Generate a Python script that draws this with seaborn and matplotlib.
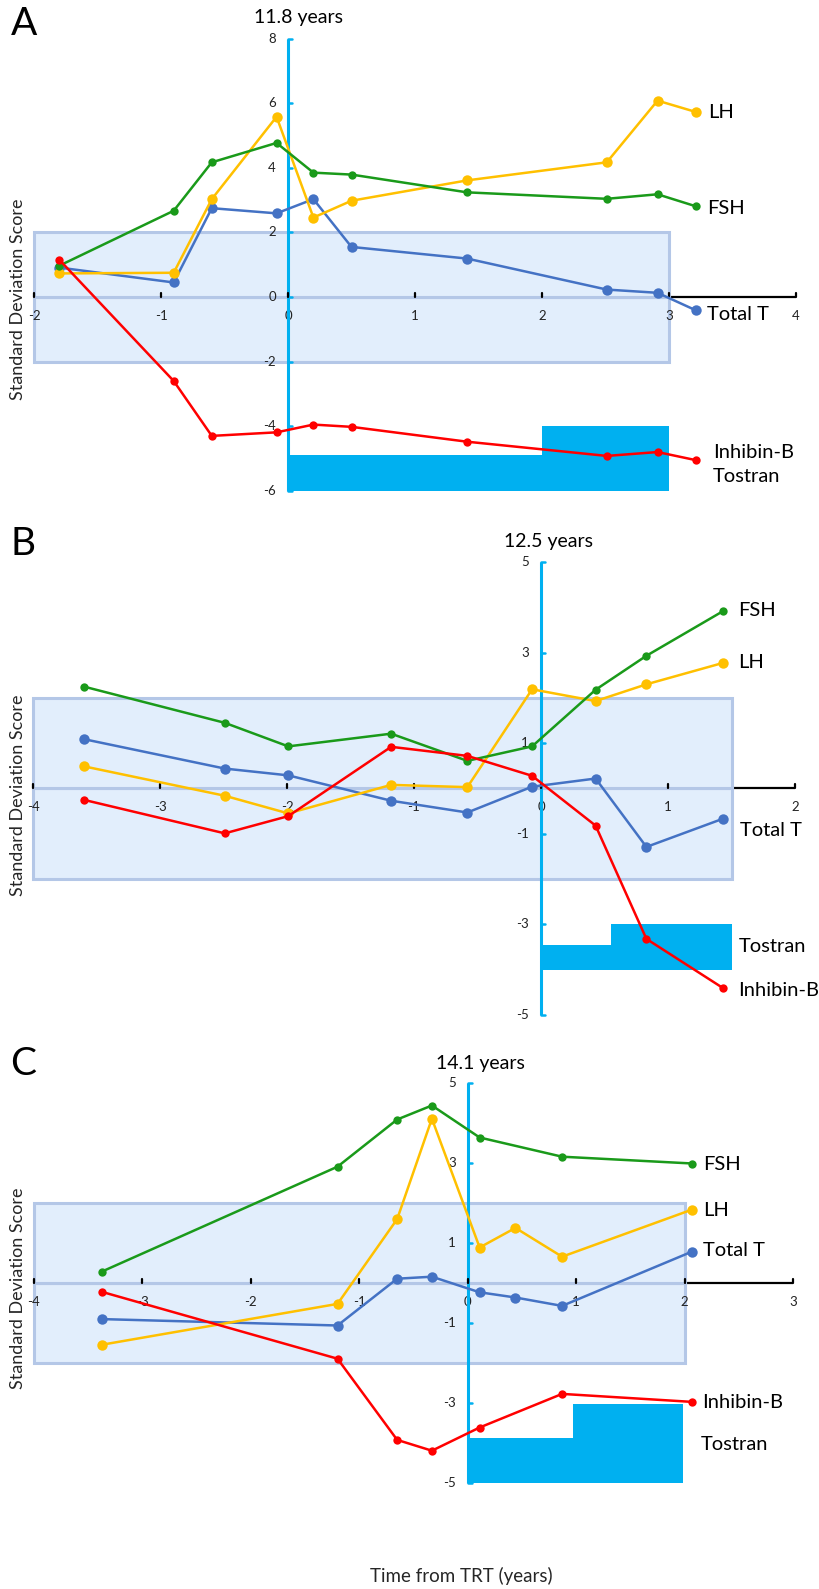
import matplotlib
matplotlib.use("Agg")
import matplotlib.pyplot as plt
import seaborn as sns
import pandas as pd
import numpy as np

sns.set_theme(style="white")
plt.rcParams['font.family'] = ['Lato', 'DejaVu Sans']

# ---------------- DATA ----------------
# Panel A (11.8 years)
a_time = [-1.80, -0.90, -0.60, -0.09, 0.20, 0.50, 1.41, 2.51, 2.91, 3.21]
a_fsh = [0.97, 2.67, 4.17, 4.77, 3.85, 3.79, 3.24, 3.04, 3.18, 2.81]
a_lh = [0.73, 0.75, 3.03, 5.58, 2.46, 2.98, 3.61, 4.17, 6.08, 5.73]
a_tt = [0.91, 0.45, 2.75, 2.59, 3.03, 1.55, 1.19, 0.23, 0.13, -0.41]
a_inh = [1.15, -2.60, -4.30, -4.19, -3.95, -4.02, -4.48, -4.92, -4.80, -5.05]
a_tostran_start = [0, 2]
a_tostran_end = [2, 3]
a_tostran_top = [-4.9, -4.0]
a_tostran_base = -6
a_range = (-2, 3)
a_yticks = [8, 6, 4, 2, 0, -2, -4, -6]
a_xticks = [-2, -1, 0, 1, 2, 3, 4]

# Panel B (12.5 years)
b_time = [-3.60, -2.49, -1.99, -1.18, -0.58, -0.07, 0.43, 0.83, 1.43]
b_fsh = [2.25, 1.45, 0.93, 1.21, 0.61, 0.93, 2.18, 2.93, 3.91]
b_lh = [0.49, -0.16, -0.55, 0.08, 0.03, 2.19, 1.93, 2.30, 2.77]
b_tt = [1.09, 0.44, 0.29, -0.27, -0.53, 0.04, 0.22, -1.29, -0.67]
b_inh = [-0.25, -0.99, -0.61, 0.92, 0.72, 0.28, -0.82, -3.32, -4.40]
b_tostran_start = [0, 0.55]
b_tostran_end = [0.55, 1.5]
b_tostran_top = [-3.45, -3.0]
b_tostran_base = -4
b_range = (-4, 1.5)
b_yticks = [5, 3, 1, -1, -3, -5]
b_xticks = [-4, -3, -2, -1, 0, 1, 2]

# Panel C (14.1 years)
c_time_lh_tt = [-3.37, -1.20, -0.65, -0.33, 0.11, 0.44, 0.87, 2.07]
c_lh = [-1.55, -0.53, 1.59, 4.10, 0.88, 1.37, 0.65, 1.83]
c_tt = [-0.91, -1.07, 0.10, 0.15, -0.24, -0.37, -0.58, 0.78]
c_time_fsh_inh = [-3.37, -1.20, -0.65, -0.33, 0.11, 0.87, 2.07]
c_fsh = [0.28, 2.90, 4.08, 4.43, 3.63, 3.15, 2.98]
c_inh = [-0.23, -1.90, -3.93, -4.20, -3.62, -2.78, -2.98]
c_tostran_start = [0, 0.97]
c_tostran_end = [0.97, 1.98]
c_tostran_top = [-3.89, -3.02]
c_tostran_base = -5
c_range = (-4, 2)
c_yticks = [5, 3, 1, -1, -3, -5]
c_xticks = [-4, -3, -2, -1, 0, 1, 2, 3]

# ---------------- STYLE ----------------
W, H = 819, 1589
GREEN = '#1A9A1A'
YELLOW = '#FFC000'
BLUE = '#4472C4'
RED = '#FF0000'
CYAN = '#00B0F0'
BOX_FILL = '#E2EEFC'
BOX_EDGE = '#B4C7E7'

fig = plt.figure(figsize=(W / 100, H / 100), dpi=100)


def make_axes(top, bottom, x0px, xs, y0px, ys):
    ax = fig.add_axes([0, 1 - bottom / H, 1, (bottom - top) / H])
    ax.set_xlim((0 - x0px) / xs, (W - x0px) / xs)
    ax.set_ylim((y0px - bottom) / ys, (y0px - top) / ys)
    ax.axis('off')
    ax.patch.set_alpha(0)
    return ax, xs, ys


def draw_panel(ax, xs, ys, series, t_start, t_end, t_top, t_base, box, yticks, xticks):
    # x axis black line with ticks
    xmin, xmax = min(xticks), max(xticks)
    ax.plot([xmin, xmax], [0, 0], color='black', lw=1.6, zorder=1, solid_capstyle='butt')
    tick_h = 4 / ys
    for xt in xticks:
        ax.plot([xt, xt], [0, tick_h], color='black', lw=1.6, zorder=2.6)
        ax.text(xt, -19 / ys, f"{xt}", ha='center', va='center', fontsize=9.5,
                color='#222222', zorder=2.4)
    # reference box (two stacked boxes, -2..0 and 0..2)
    bl, br = box
    ax.bar([bl, bl], [2, 2], width=br - bl, bottom=[-2, 0], align='edge',
           color=BOX_FILL, edgecolor=BOX_EDGE, linewidth=2.2, zorder=2)
    # Tostran bars
    widths = [e - s for s, e in zip(t_start, t_end)]
    heights = [t - t_base for t in t_top]
    ax.bar(t_start, heights, width=widths, bottom=t_base, align='edge',
           color=CYAN, edgecolor='none', linewidth=0, zorder=2.2)
    # y axis blue line with ticks
    ymin, ymax = min(yticks), max(yticks)
    ax.plot([0, 0], [ymin, ymax], color=CYAN, lw=2.2, zorder=2.5, solid_capstyle='butt')
    tick_w = 4 / xs
    for yt in yticks:
        ax.plot([0, tick_w], [yt, yt], color=CYAN, lw=1.8, zorder=2.5)
        ax.text(-12 / xs, yt, f"{yt}", ha='right', va='center', fontsize=9.5,
                color='#222222', zorder=2.4)
    # series
    for time, vals, col, ms in series:
        df = pd.DataFrame({'t': time, 'v': vals})
        sns.lineplot(data=df, x='t', y='v', ax=ax, color=col, marker='o', markersize=ms,
                     markeredgewidth=0, linewidth=1.8, zorder=3, sort=False, legend=False)
    ax.set_xlabel('')
    ax.set_ylabel('')
    ax.axis('off')


BIG, SMALL = 7.5, 6

# Panel A
axA, xsA, ysA = make_axes(0, 510, 288, 127, 297, 32.3)
draw_panel(axA, xsA, ysA,
           [(a_time, a_tt, BLUE, BIG), (a_time, a_lh, YELLOW, BIG),
            (a_time, a_fsh, GREEN, SMALL), (a_time, a_inh, RED, SMALL)],
           a_tostran_start, a_tostran_end, a_tostran_top, a_tostran_base,
           a_range, a_yticks, a_xticks)
# Panel B
axB, xsB, ysB = make_axes(510, 1030, 541, 127, 788.5, 45.3)
draw_panel(axB, xsB, ysB,
           [(b_time, b_tt, BLUE, BIG), (b_time, b_lh, YELLOW, BIG),
            (b_time, b_fsh, GREEN, SMALL), (b_time, b_inh, RED, SMALL)],
           b_tostran_start, b_tostran_end, b_tostran_top, b_tostran_base,
           b_range, b_yticks, b_xticks)
# Panel C
axC, xsC, ysC = make_axes(1030, 1589, 467.7, 108.5, 1282.7, 40)
draw_panel(axC, xsC, ysC,
           [(c_time_lh_tt, c_tt, BLUE, BIG), (c_time_lh_tt, c_lh, YELLOW, BIG),
            (c_time_fsh_inh, c_fsh, GREEN, SMALL), (c_time_fsh_inh, c_inh, RED, SMALL)],
           c_tostran_start, c_tostran_end, c_tostran_top, c_tostran_base,
           c_range, c_yticks, c_xticks)


def ftext(xp, yp, s, **kw):
    fig.text(xp / W, 1 - yp / H, s, **kw)


LBL = dict(fontsize=14.5, ha='left', va='center', color='black')
# Series labels
for (s, xp, yp) in [('LH', 708, 113), ('FSH', 707, 208), ('Total T', 707, 314),
                    ('Inhibin-B', 713, 452), ('Tostran', 713, 477),
                    ('FSH', 738, 611), ('LH', 738, 663), ('Total T', 740, 830),
                    ('Tostran', 739, 946), ('Inhibin-B', 738, 990),
                    ('FSH', 703, 1164), ('LH', 703, 1211), ('Total T', 703, 1251),
                    ('Inhibin-B', 702, 1402), ('Tostran', 701, 1444)]:
    ftext(xp, yp, s, **LBL)

# Ages
for (s, xp, yp) in [('11.8 years', 299, 17), ('12.5 years', 548, 542), ('14.1 years', 480, 1063)]:
    ftext(xp, yp, s, fontsize=14, ha='center', va='center', color='black')

# Panel letters
for (s, xp, yp) in [('A', 11, 24), ('B', 11, 544), ('C', 10, 1064)]:
    ftext(xp, yp, s, fontsize=28, ha='left', va='center', color='black')

# Y labels
for yp in [299, 795, 1288]:
    ftext(18, yp, 'Standard Deviation Score', fontsize=13, rotation=90, ha='center', va='center')

# X label
ftext(461, 1576, 'Time from TRT (years)', fontsize=13.5, ha='center', va='center')

fig.savefig('out.png', dpi=100)
